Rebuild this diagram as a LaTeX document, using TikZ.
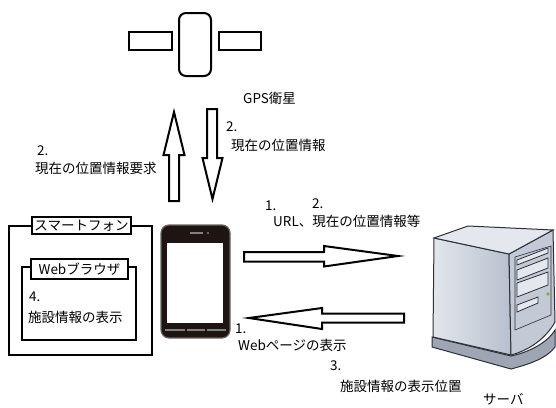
\documentclass[tikz,border=0pt]{standalone}
\usepackage{fontspec}
\setmainfont{Noto Sans CJK JP}
\usepackage{tikz}
\definecolor{phoneblack}{HTML}{1E1512}
\definecolor{phoneedge}{HTML}{6A6460}
\definecolor{srvtop}{HTML}{E4E8EE}
\definecolor{srvfrontL}{HTML}{E2E6ED}
\definecolor{srvfrontR}{HTML}{B8C0CD}
\definecolor{srvside}{HTML}{C3CAD6}
\definecolor{srvbase}{HTML}{9EA6B3}
\definecolor{srvline}{HTML}{2B303A}
\definecolor{ledgreen}{HTML}{78B82A}
\tikzstyle{blockarrow}=[draw=black, fill=white, line width=2pt, miter limit=10]
\tikzstyle{txt}=[anchor=west, inner sep=0pt, font=\fontsize{13.5}{16}\selectfont]
\tikzstyle{panel}=[draw=black, line width=2pt, inner sep=0pt]
\tikzstyle{titlebox}=[draw=black, fill=white, line width=1.5pt, inner sep=0pt, font=\fontsize{13.5}{16}\selectfont]
\tikzstyle{frame}=[draw=black, line width=1.5pt]

\begin{document}
\begin{tikzpicture}[x=1pt, y=-1pt]
			\useasboundingbox (0,0) rectangle (556,407);
			\node[panel, rounded corners=7pt, minimum width=32pt, minimum height=63pt] (sat) at (195,44.5) {};
			\node[panel, minimum width=43pt, minimum height=18pt] (satL) at (150.5,41) {};
			\node[panel, minimum width=42pt, minimum height=18pt] (satR) at (240,41) {};
			\node[txt] (gps) at (243,98) {GPS衛星};
			\path[blockarrow] (169,201) -- (169,155) -- (163.5,155) -- (174,112) -- (184.5,155) -- (179,155) -- (179,201) -- cycle;
			\path[blockarrow] (207,109) -- (207,158) -- (202.5,158) -- (212.5,199) -- (222.5,158) -- (217,158) -- (217,109) -- cycle;
			\node[txt] at (37,151) {2.};
			\node[txt] at (35,168) {現在の位置情報要求};
			\node[txt] at (226,127) {2.};
			\node[txt] at (231,145) {現在の位置情報};
			\draw[frame] (9,226) rectangle (152,355);
			\node[titlebox, minimum width=99pt, minimum height=17pt] (sp) at (81.5,225.5) {スマートフォン};
			\draw[frame] (22,267) rectangle (136,340);
			\node[titlebox, minimum width=97pt, minimum height=20pt] (wb) at (79.5,269) {Webブラウザ};
			\node[txt] at (29,297) {4.};
			\node[txt] at (28,317) {施設情報の表示};
			\node[draw=phoneedge, line width=1.2pt, fill=phoneblack, rounded corners=8pt, minimum width=69pt, minimum height=113pt] (phone) at (195.5,281.5) {};
			\node[fill=white, minimum width=56pt, minimum height=80pt, inner sep=0pt] (screen) at (195,283) {};
			\draw[gray, line width=1.5pt] (190,233) -- (203,233);
			\fill[gray] (208,233) circle (1.2pt);
			\draw[gray, line width=1.2pt] (165,330) -- (185,330) (187,330) -- (205,330) (207,330) -- (226,330);
			\path[blockarrow] (244,252) -- (324,252) -- (324,246) -- (398,256) -- (324,266.5) -- (324,261.5) -- (244,261.5) -- cycle;
			\path[blockarrow] (404,313.5) -- (322,313.5) -- (322,308) -- (249,318) -- (322,329) -- (322,322.5) -- (404,322.5) -- cycle;
			\node[txt] at (265,206) {1.};
			\node[txt] at (312,204) {2.};
			\node[txt] at (273,221) {URL、現在の位置情報等};
			\node[txt] at (235,329) {1.};
			\node[txt] at (238,345) {Webページの表示};
			\node[txt] at (330,366) {3.};
			\node[txt] at (340,386) {施設情報の表示位置};
			\path[fill=srvbase, draw=srvline, line width=1pt] (432,337) -- (511,356) .. controls (530,352) and (548,342) .. (555,330) -- (555,347) .. controls (547,358) and (530,364) .. (511,369) -- (432,347) -- cycle;
			\shade[left color=srvfrontL, right color=srvfrontR] (434,238) -- (509,254) -- (511,355) -- (433,337) -- cycle;
			\path[draw=srvline, line width=1pt] (434,238) -- (509,254) -- (511,355) -- (433,337) -- cycle;
			\path[fill=srvside, draw=srvline, line width=1pt] (509,254) -- (553,230) -- (555,322) .. controls (546,338) and (530,350) .. (511,355) -- cycle;
			\path[fill=srvtop, draw=srvline, line width=1pt] (434,238) -- (468,226) -- (553,230) -- (509,254) -- cycle;
			\path[draw=srvline, line width=0.6pt] (515,257) -- (551,246) -- (551,315) -- (515,330) -- cycle;
			\path[fill=srvtop, draw=srvline, line width=0.8pt] (517,260) -- (548,248) -- (548,253) -- (517,265) -- cycle (517,270) -- (548,258) -- (548,268) -- (517,280) -- cycle (517,283) -- (548,272) -- (548,285) -- (517,297) -- cycle (517,305) -- (538,297) -- (538,303) -- (517,312) -- cycle;
			\fill[ledgreen] (548,294) circle (1.8pt);
			\node[txt] (server) at (483,399) {サーバ};
		\end{tikzpicture}
\end{document}
